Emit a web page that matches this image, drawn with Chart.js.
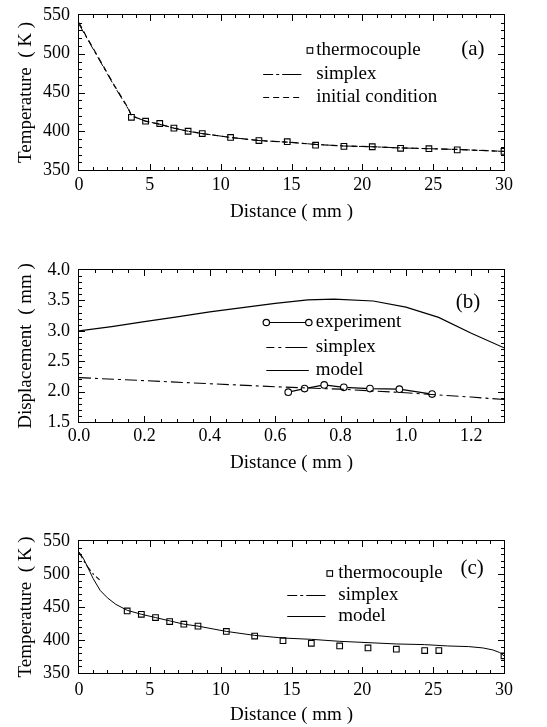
<!DOCTYPE html>
<html><head><meta charset="utf-8">
<script src="https://cdn.jsdelivr.net/npm/chart.js@4/dist/chart.umd.min.js"></script>
<style>
html,body{margin:0;padding:0;background:#fff;}
body{width:547px;height:727px;position:relative;overflow:hidden;}
canvas{position:absolute;left:0;}
.fr{position:absolute;box-sizing:border-box;border:1.5px solid #000;z-index:2;pointer-events:none;}
.tk{position:absolute;background:#000;z-index:2;pointer-events:none;}
</style></head><body>
<canvas id="ca" width="547" height="230" style="top:0px"></canvas>
<canvas id="cb" width="547" height="240" style="top:240px"></canvas>
<canvas id="cc" width="547" height="237" style="top:490px"></canvas>
<script>
// ---------- Panel (a) ----------
const aThermoX = [3.7, 4.7, 5.7, 6.7, 7.7, 8.7, 10.7, 12.7, 14.7, 16.7, 18.7, 20.7, 22.7, 24.7, 26.7, 30];
const aThermoY = [418, 413, 410, 404, 400, 397, 392, 388, 386.5, 382, 380.5, 380, 378, 377.5, 376, 374];
const aInitX = [0, 0.5, 1, 1.5, 2, 2.5, 3, 3.5, 3.7, 4.7, 5.7, 6.7, 7.7, 8.7, 10.7, 12.7, 14.7, 16.7, 18.7, 20.7, 22.7, 24.7, 26.7, 30];
const aInitY = [540, 523, 507, 491, 475, 459, 444, 429, 420, 413, 409, 404, 400, 397, 392, 388, 386, 383, 381, 380, 378.5, 377.5, 376.5, 374];
const aSimplexX = [0, 0.5, 1, 1.5, 2, 2.5, 3, 3.5, 3.7, 4.7, 5.7, 6.7, 7.7, 8.7, 10.7, 12.7, 14.7, 16.7, 18.7, 20.7, 22.7, 24.7, 26.7, 30];
const aSimplexY = [538, 522, 506, 490, 474, 458, 443, 428, 420, 413, 409, 404, 400, 397, 392, 388, 386, 383, 381, 380, 378.5, 377.5, 376.5, 374];
const aXTicks = [0, 5, 10, 15, 20, 25, 30];
const aYTicks = [350, 400, 450, 500, 550];

// ---------- Panel (b) ----------
const bExpX = [0.64, 0.69, 0.75, 0.81, 0.89, 0.98, 1.08];
const bExpY = [1.99, 2.05, 2.11, 2.07, 2.05, 2.04, 1.96];
const bSimplexX = [0, 0.2, 0.4, 0.6, 0.8, 1.0, 1.2, 1.3];
const bSimplexY = [2.23, 2.18, 2.13, 2.08, 2.04, 1.98, 1.91, 1.87];
const bModelX = [0, 0.1, 0.2, 0.3, 0.4, 0.5, 0.6, 0.7, 0.78, 0.9, 1.0, 1.1, 1.2, 1.3];
const bModelY = [3.0, 3.07, 3.15, 3.23, 3.31, 3.38, 3.45, 3.51, 3.52, 3.49, 3.39, 3.22, 2.96, 2.72];
const bXTicks = [0, 0.2, 0.4, 0.6, 0.8, 1.0, 1.2];
const bYTicks = [1.5, 2.0, 2.5, 3.0, 3.5, 4.0];

// ---------- Panel (c) ----------
const cThermoX = [3.4, 4.4, 5.4, 6.4, 7.4, 8.4, 10.4, 12.4, 14.4, 16.4, 18.4, 20.4, 22.4, 24.4, 25.4, 30];
const cThermoY = [444, 439, 434, 428, 424, 421, 413, 406, 399, 395, 391, 388, 386, 384, 384, 376];
const cSimplexX = [0, 0.5, 1.0, 1.45];
const cSimplexY = [533, 514, 500, 491];
const cModelX = [0, 0.3, 0.6, 1.0, 1.5, 2, 2.6, 3.4, 4.4, 5.4, 6.4, 7.4, 8.4, 10.4, 12.4, 14.4, 16.4, 18.4, 20.4, 22.4, 24.4, 26, 27.5, 28.5, 29.2, 29.7, 30];
const cModelY = [533, 524, 511, 493, 475, 464, 454, 445, 439, 434, 429, 424, 421, 413, 407, 403, 401, 398, 396, 394, 393, 391, 390, 388, 385, 381, 376];
const cXTicks = [0, 5, 10, 15, 20, 25, 30];
const cYTicks = [350, 400, 450, 500, 550];

const SERIF = '"Liberation Serif", "DejaVu Serif", serif';
const pts = (xs, ys) => xs.map((x, i) => ({x, y: ys[i]}));

function addDiv(cls, l, t, w, h) {
  const d = document.createElement('div');
  d.className = cls;
  d.style.left = l + 'px'; d.style.top = t + 'px';
  d.style.width = w + 'px'; d.style.height = h + 'px';
  document.body.appendChild(d);
}

// frame box and inward tick marks, placed from the chart's own scales
function addFrame(chart, fr, offY) {
  const a = chart.chartArea, x = chart.scales.x, y = chart.scales.y;
  const L = Math.round(a.left), T = Math.round(a.top) + offY, R = Math.round(a.right), B = Math.round(a.bottom) + offY;
  addDiv('fr', L - 1, T - 1, R - L + 2, B - T + 2);
  const nx = Math.round((x.max - x.min) / fr.xMinor);
  for (let i = 1; i < nx; i++) {
    const v = x.min + i * fr.xMinor;
    const r = (v - x.min) / fr.xMajor;
    const len = Math.abs(r - Math.round(r)) < 1e-6 ? 6 : 3;
    const p = Math.round(x.getPixelForValue(v));
    addDiv('tk', p, B - len, 1, len);
    addDiv('tk', p, T, 1, len);
  }
  const ny = Math.round((y.max - y.min) / fr.yMinor);
  for (let i = 1; i < ny; i++) {
    const v = y.min + i * fr.yMinor;
    const r = (v - y.min) / fr.yMajor;
    const len = Math.abs(r - Math.round(r)) < 1e-6 ? 6 : 3;
    const p = Math.round(y.getPixelForValue(v)) + offY;
    addDiv('tk', L, p, len, 1);
    addDiv('tk', R - len, p, len, 1);
  }
}

function drawKey(chart, key) {
  const ctx = chart.ctx, x = chart.scales.x, y = chart.scales.y;
  ctx.save();
  ctx.strokeStyle = '#000';
  ctx.fillStyle = '#000';
  ctx.textBaseline = 'middle';
  const seg = (x1, y1, x2, y2) => { ctx.beginPath(); ctx.moveTo(x1, y1); ctx.lineTo(x2, y2); ctx.stroke(); };
  key.items.forEach(it => {
    const yy = Math.round(y.getPixelForValue(it.y)) + 0.5;
    const x1 = x.getPixelForValue(key.lineFrom), x2 = x.getPixelForValue(key.lineTo);
    if (it.line) {
      ctx.lineWidth = it.width || 1.2;
      ctx.setLineDash(it.dash || []);
      seg(x1, yy, x2, yy);
      ctx.setLineDash([]);
    }
    if (it.circles) {
      ctx.lineWidth = 1.2;
      [x1, x2].forEach(cx => {
        ctx.beginPath(); ctx.fillStyle = '#fff'; ctx.arc(cx, yy, 3.2, 0, Math.PI * 2); ctx.fill(); ctx.stroke();
      });
      ctx.fillStyle = '#000';
    }
    if (it.square) {
      const sx = x.getPixelForValue(key.markerAt);
      ctx.lineWidth = 1.1;
      ctx.strokeRect(sx - 2.8, yy - 2.8, 5.6, 5.6);
    }
    ctx.font = '19px ' + SERIF;
    ctx.textAlign = 'left';
    ctx.fillText(it.text, x.getPixelForValue(key.textAt), yy);
  });
  ctx.font = '21px ' + SERIF;
  ctx.textAlign = 'center';
  ctx.fillText(key.tag, x.getPixelForValue(key.tagX), y.getPixelForValue(key.tagY));
  ctx.restore();
}

function axisCfg(ticksArr, min, max, opts) {
  return {
    type: 'linear', min, max,
    afterBuildTicks: s => { s.ticks = ticksArr.map(v => ({value: v})); },
    grid: {display: false, drawTicks: false},
    border: {display: false},
    ticks: {color: '#000', font: {family: SERIF, size: 18}, padding: opts.pad, callback: opts.fmt},
    title: {display: true, text: opts.title, color: '#000', font: {family: SERIF, size: 19}, padding: opts.tpad},
    afterFit: opts.fit
  };
}

function make(id, offY, datasets, cfg) {
  const chart = new Chart(document.getElementById(id), {
    type: 'scatter',
    data: {datasets},
    options: {
      responsive: false, animation: false,
      layout: {padding: {left: 0, right: 43, top: cfg.top, bottom: 0}},
      plugins: {legend: {display: false}, tooltip: {enabled: false}},
      scales: {
        x: axisCfg(cfg.xTicks, cfg.xMin, cfg.xMax, {pad: cfg.xPad, title: 'Distance ( mm )', tpad: cfg.xTPad, fmt: cfg.xFmt,
             fit: s => { s.height = cfg.xH; s.paddingLeft = 0; s.paddingRight = 0; }}),
        y: axisCfg(cfg.yTicks, cfg.yMin, cfg.yMax, {pad: 9, title: cfg.yTitle, tpad: 15, fmt: cfg.yFmt,
             fit: s => { s.width = 79; s.paddingTop = 0; s.paddingBottom = 0; }})
      }
    },
    plugins: [{
      id: 'key' + id,
      afterDraw(c) { drawKey(c, cfg.key); }
    }]
  });
  addFrame(chart, cfg.frame, offY);
}

const lineDs = (data, dash, w) => ({data, showLine: true, borderColor: '#000', borderWidth: w || 1.2, borderDash: dash, pointRadius: 0, tension: 0});
const markDs = (data, style, r, line) => ({data, showLine: !!line, borderColor: '#000', borderWidth: 1.2, pointStyle: style, pointRadius: r, pointBorderWidth: 1.1, pointBackgroundColor: '#fff', pointBorderColor: '#000', backgroundColor: '#fff'});

const fmt1 = v => Number(v).toFixed(1);
const fmt0 = v => String(v);

make('ca', 0, [
  lineDs(pts(aInitX, aInitY), [6, 4], 1.2),
  lineDs(pts(aSimplexX, aSimplexY), [10, 3, 3, 3], 1.0),
  markDs(pts(aThermoX, aThermoY), 'rect', 4)
], {
  top: 15, xH: 60, xPad: 4, xTPad: 7, xFmt: fmt0, yFmt: fmt0,
  xTicks: aXTicks, xMin: 0, xMax: 30, yTicks: aYTicks, yMin: 350, yMax: 550,
  yTitle: 'Temperature  ( K )',
  frame: {xMinor: 1, xMajor: 5, yMinor: 10, yMajor: 50},
  key: {lineFrom: 13.0, lineTo: 15.7, markerAt: 16.3, textAt: 16.75, tag: '(a)', tagX: 27.8, tagY: 505,
    items: [
      {y: 505, text: 'thermocouple', square: true},
      {y: 474, text: 'simplex', line: true, dash: [10, 3, 3, 3, 12, 0]},
      {y: 444, text: 'initial condition', line: true, dash: [6, 4], width: 1}
    ]}
});

make('cb', 240, [
  lineDs(pts(bModelX, bModelY), [], 1.2),
  lineDs(pts(bSimplexX, bSimplexY), [12, 4, 3, 4], 1.1),
  markDs(pts(bExpX, bExpY), 'circle', 3.3, true)
], {
  top: 30, xH: 58, xPad: 3, xTPad: 6, xFmt: fmt1, yFmt: fmt1,
  xTicks: bXTicks, xMin: 0, xMax: 1.3, yTicks: bYTicks, yMin: 1.5, yMax: 4.0,
  yTitle: 'Displacement  ( mm )',
  frame: {xMinor: 0.05, xMajor: 0.2, yMinor: 0.1, yMajor: 0.5},
  key: {lineFrom: 0.573, lineTo: 0.703, markerAt: 0.64, textAt: 0.724, tag: '(b)', tagX: 1.19, tagY: 3.47,
    items: [
      {y: 3.14, text: 'experiment', line: true, circles: true},
      {y: 2.74, text: 'simplex', line: true, dash: [8, 4, 3, 4, 14, 0]},
      {y: 2.35, text: 'model', line: true}
    ]}
});

make('cc', 490, [
  lineDs(pts(cModelX, cModelY), [], 1.0),
  lineDs(pts(cSimplexX, cSimplexY), [7, 3, 2, 3], 1.1),
  markDs(pts(cThermoX, cThermoY), 'rect', 4)
], {
  top: 51, xH: 54, xPad: 6, xTPad: 1, xFmt: fmt0, yFmt: fmt0,
  xTicks: cXTicks, xMin: 0, xMax: 30, yTicks: cYTicks, yMin: 350, yMax: 550,
  yTitle: 'Temperature  ( K )',
  frame: {xMinor: 1, xMajor: 5, yMinor: 10, yMajor: 50},
  key: {lineFrom: 14.7, lineTo: 17.4, markerAt: 17.7, textAt: 18.3, tag: '(c)', tagX: 27.75, tagY: 509,
    items: [
      {y: 502, text: 'thermocouple', square: true},
      {y: 468, text: 'simplex', line: true, dash: [10, 3, 3, 3, 12, 0]},
      {y: 436, text: 'model', line: true, width: 1}
    ]}
});
</script>
</body></html>
